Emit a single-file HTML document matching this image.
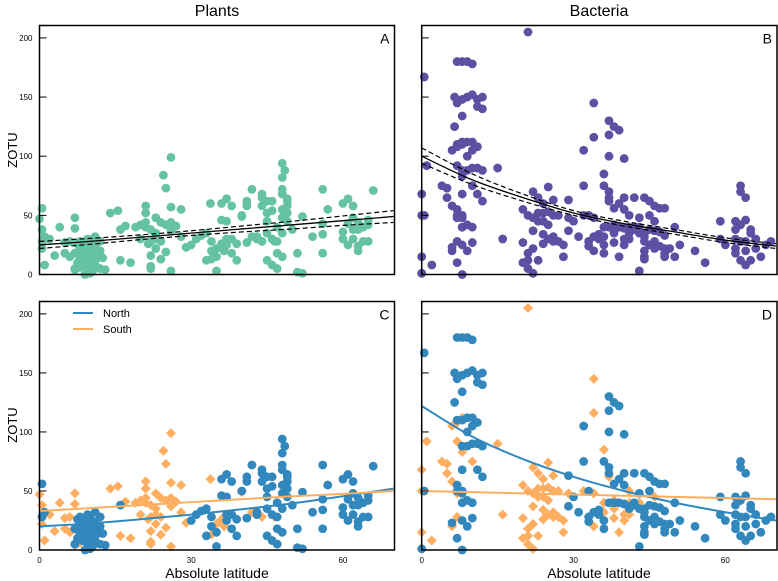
<!DOCTYPE html>
<html><head><meta charset="utf-8">
<style>
html,body{margin:0;padding:0;background:#fff;}
svg{display:block;font-family:"Liberation Sans",Arial,sans-serif;}
</style></head>
<body>
<svg id="chart" width="778" height="581" viewBox="0 0 778 581" xmlns="http://www.w3.org/2000/svg"></svg>
<script>
// Plants: North (circles)
const plantsNorthLat = [0.5,1,0.5,7,7.5,8,8,8.5,9,9,9,9.5,9.5,10,10,10,10,10.5,10.5,11,11,11,11.5,12,12,8,7,12,10,9,11,13,16,30,31,32,33,33,34,34,35,35,36,36,37,37,37,37,38,38,38,39,39,40,41,41,41,42,43,43,44,44,44,45,45,45,45,45,46,46,46,46,47,47,47,47,48,48,48,48,48,48,49,49,49,49,48,48.5,48,49,50,51,51,52,52,54,56,56,56,56,57,60,60,60,61,61,61,62,62,62,62,63,63,63,63,64,64,65,65,65,66,8,9,10,11,7.5,9.5,10.5,12.5];
const plantsNorthVal = [56,32,28,5,10,15,22,8,12,18,25,5,30,10,15,20,27,3,12,18,24,8,14,20,28,28,18,5,1,0,32,4,38,25,30,33,35,12,28,20,3,15,46,60,64,45,30,25,18,58,30,12,26,50,62,58,27,72,32,30,58,65,68,62,52,45,35,12,62,30,54,8,40,28,18,5,72,68,55,48,35,15,62,58,52,45,94,88,82,64,38,18,2,1,49,32,72,43,34,18,55,60,30,36,64,43,25,58,48,38,30,44,38,24,20,40,28,46,42,28,71,20,12,16,22,26,6,20,14];
// Plants: South (diamonds)
const plantsSouthLat = [0,0.5,0.5,1,1,2,3,4,5,5,6,6,7,7,7,7,8,8,14,15.5,17,18,20,21,21,21,21.5,22,22,22,22,23,23,23,24,24,24,25,25,25,26,26,26,26,27,28,28,29,21,19,16,33.8,40,46.5,34,36,35,37,42,44,20,22,23,26,24.5,36.5];
const plantsSouthVal = [47,38,22,30,8,30,16,40,27,18,28,15,4,48,39,18,12,6,52,54,41,10,42,40,52,44,26,16,5,7,38,30,22,48,44,13,28,19,42,73,44,37,57,3,41,32,55,23,58,40,12,60,49,28,13,26,22,30,32,28,30,28,35,99,84,20];
// Bacteria: North (circles)
const bactNorthLat = [0.5,0.5,0,6.5,7,8,9,10,7,8,9,10,11,12,11,12,6.5,8,7,8,9,10,10,11,9,8,9,10,11,12,8,11,12,7,8,9,8,10,6,8,9,10,7,8,37,32,38,39,37,40,32,36,37,37,39,38,40,29,33,40,42,44,45,46,47,48,43,45,37,38,39,40,41,42,43,44,45,46,47,48,29,31,33,34,35,33,36,41,44,44,45,46,47,48,49,50,44,46,48,50,51,44,48,54,56,59,59,60,63,63,64,62,63,64,65,62,65,62,63,64,66,62,64,66,63,64,65,67,62,68,69,37,35,42,43,44,36,30,7,8];
const bactNorthVal = [167,50,1,150,180,180,180,178,145,148,150,152,148,150,142,140,125,134,110,110,112,112,105,108,100,88,88,90,90,88,68,68,62,55,50,42,40,40,23,25,20,27,10,0,130,105,125,122,100,98,75,75,70,65,60,56,65,63,50,55,65,65,62,58,56,56,48,50,40,40,40,39,37,38,35,35,38,37,36,33,37,32,28,32,34,24,25,35,32,28,25,28,24,22,22,40,20,22,18,15,25,13,15,20,10,45,30,25,75,70,65,45,42,46,38,38,35,30,28,28,30,22,20,22,12,8,12,15,18,25,28,118,30,40,3,15,18,45,50,48];
// Bacteria: South (diamonds)
const bactSouthLat = [0,0,0,0,1,4,5,6,7,7,8,8,5,6,7,6,7,2,8,10,15,16,20,21,22,23,24,25,26,23,24,25,22,23,24,25,26,27,29,20,22,24,25,26,27,28,21,22,24,26,28,20,21,21,23,22,21,34,34,36,37,38,36,38,40,41,41,43,46,33,36,38,40,41,34,39,32,34];
const bactSouthVal = [68,50,15,1,92,75,73,105,108,92,83,112,65,58,48,20,28,8,40,75,90,30,55,50,70,65,60,74,63,52,52,53,48,45,45,42,50,50,48,27,37,34,30,32,28,25,18,22,26,28,15,10,5,12,12,1,205,145,116,85,62,42,40,35,30,50,40,40,45,28,32,27,25,30,20,15,50,48];
// Fitted curves: [latitude, value]
const fitLat = [0,10,20,30,40,50,60,70];
const fitPlants = [25,28,31.5,35,38.5,42,45.5,49];
const fitPlantsLo = [22,25.5,29.5,33,36,38.5,41.5,44];
const fitPlantsHi = [28,30.5,33.5,37,41,45,49.5,54];
const fitBact = [100,80,65,52,43,36,29,24];
const fitBactLo = [94,76,62,50,41,34,27,22];
const fitBactHi = [107,85,68,54,45,38,31,26];
const fitPlantsN = [20,22.5,26,30,34.5,39.5,45.5,52];
const fitPlantsS = [33,35.5,38,40.5,43,45.5,47.5,50];
const fitBactN = [122,96,77,62,50,40,32,25];
const fitBactS = [50,49,48,47,46,45,44,43];
const yTicks = [0,50,100,150,200];
const xTicks = [0,30,60];

const svg = document.getElementById('chart');
const NS = 'http://www.w3.org/2000/svg';
function mk(tag, attrs, parent){const e=document.createElementNS(NS,tag);for(const k in attrs)e.setAttribute(k,attrs[k]);(parent||svg).appendChild(e);return e;}

const panels = [
 {id:'a',letter:'A',x0:39.5,x1:394.5,y0:274.5,y1:25.5},
 {id:'b',letter:'B',x0:421.7,x1:777,y0:274.5,y1:25.5},
 {id:'c',letter:'C',x0:39.5,x1:394.5,y0:550,y1:301.5},
 {id:'d',letter:'D',x0:421.7,x1:777,y0:550,y1:301.5}
];
const XMAX=70.2, YMAX=210.5;
function sx(p,v){return p.x0+(v/XMAX)*(p.x1-p.x0);}
function sy(p,v){return p.y0-(v/YMAX)*(p.y0-p.y1);}

function drawAxes(p, showX){
  const g=mk('g',{});
  
  
  yTicks.forEach(t=>{
    const y=sy(p,t);
    const l=mk('line',{x1:p.x0,x2:p.x0+7,y1:y,y2:y,stroke:'#000','stroke-width':1},g);
    
    
    if(p.id==='a'||p.id==='c'){
      const tx=mk('text',{x:p.x0-7,y:y+3,'font-size':8,'text-anchor':'end',fill:'#000'},g);
      tx.textContent=t;
      
      
    }
  });
  if(showX){
    xTicks.forEach(t=>{
      const x=sx(p,t);
      const tx=mk('text',{x:x,y:p.y0+13,'font-size':8,'text-anchor':'middle',fill:'#000'},g);
      tx.textContent=t;
      
      
    });
  }
}
function drawBox(p){
  const r=mk('rect',{x:p.x0,y:p.y1,width:p.x1-p.x0,height:p.y0-p.y1,fill:'none',stroke:'#000','stroke-width':1.5});
  
  
  const t=mk('text',{x:p.x1-5,y:p.y1+18,'font-size':14,'text-anchor':'end',fill:'#000'});
  t.textContent=p.letter;
  
  
}
function circles(p,lat,val,color,name){
  const g=mk('g',{});
  
  
  for(let i=0;i<lat.length;i++){
    const c=mk('circle',{cx:sx(p,lat[i]),cy:sy(p,val[i]),r:4.4,fill:color},g);
    
    
  }
}
function diamonds(p,lat,val,color,name){
  const g=mk('g',{});
  
  
  for(let i=0;i<lat.length;i++){
    const x=sx(p,lat[i]),y=sy(p,val[i]),d=5;
    const c=mk('polygon',{points:`${x},${y-d} ${x+d},${y} ${x},${y+d} ${x-d},${y}`,fill:color},g);
    
    
  }
}
function curve(p,xs,ys,color,w,dash,name){
  let d='';
  // Catmull-Rom smoothing
  const pts=xs.map((x,i)=>[sx(p,x),sy(p,ys[i])]);
  d='M'+pts[0][0]+','+pts[0][1];
  for(let i=0;i<pts.length-1;i++){
    const p0=pts[i-1]||pts[i],p1=pts[i],p2=pts[i+1],p3=pts[i+2]||p2;
    const c1=[p1[0]+(p2[0]-p0[0])/6,p1[1]+(p2[1]-p0[1])/6];
    const c2=[p2[0]-(p3[0]-p1[0])/6,p2[1]-(p3[1]-p1[1])/6];
    d+=` C${c1[0]},${c1[1]} ${c2[0]},${c2[1]} ${p2[0]},${p2[1]}`;
  }
  const a={d:d,fill:'none',stroke:color,'stroke-width':w};
  if(dash)a['stroke-dasharray']=dash;
  const e=mk('path',a);
  
  
}

const GREEN='#66c2a5', PURPLE='#5e4fa2', BLUE='#3288bd', ORANGE='#fdae61';
const [A,B,C,D]=panels;
// Panel A
circles(A,plantsNorthLat.concat(plantsSouthLat),plantsNorthVal.concat(plantsSouthVal),GREEN,'plants-points');
curve(A,fitLat,fitPlantsLo,'#000',1.2,'5,3','plants-fit-lower-ci');
curve(A,fitLat,fitPlantsHi,'#000',1.2,'5,3','plants-fit-upper-ci');
curve(A,fitLat,fitPlants,'#000',1.3,null,'plants-fit');
// Panel B
circles(B,bactNorthLat.concat(bactSouthLat),bactNorthVal.concat(bactSouthVal),PURPLE,'bacteria-points');
curve(B,fitLat,fitBactLo,'#000',1.2,'5,3','bacteria-fit-lower-ci');
curve(B,fitLat,fitBactHi,'#000',1.2,'5,3','bacteria-fit-upper-ci');
curve(B,fitLat,fitBact,'#000',1.3,null,'bacteria-fit');
// Panel C
diamonds(C,plantsSouthLat,plantsSouthVal,ORANGE,'plants-south-points');
circles(C,plantsNorthLat,plantsNorthVal,BLUE,'plants-north-points');
curve(C,fitLat,fitPlantsN,BLUE,2,null,'plants-north-fit');
curve(C,fitLat,fitPlantsS,ORANGE,2,null,'plants-south-fit');
// Panel D
diamonds(D,bactSouthLat,bactSouthVal,ORANGE,'bacteria-south-points');
circles(D,bactNorthLat,bactNorthVal,BLUE,'bacteria-north-points');
curve(D,fitLat,fitBactN,BLUE,2,null,'bacteria-north-fit');
curve(D,fitLat,fitBactS,ORANGE,2,null,'bacteria-south-fit');

panels.forEach(p=>{drawAxes(p,p.id==='c'||p.id==='d');drawBox(p);});

// titles
function txt(x,y,s,str,name,extra){const t=mk('text',Object.assign({x:x,y:y,'font-size':s,'text-anchor':'middle',fill:'#000'},extra||{}));t.textContent=str;return t;}
txt(217,16,16,'Plants','plants-title');
txt(599,16,16,'Bacteria','bacteria-title');
txt(17,150,13,'ZOTU','y-axis-title-top',{transform:'rotate(-90 17 150)'});
txt(17,425,13,'ZOTU','y-axis-title-bottom',{transform:'rotate(-90 17 425)'});
txt(217,578,14,'Absolute latitude','x-axis-title-left');
txt(599,578,14,'Absolute latitude','x-axis-title-right');

// legend
const lg=mk('g',{});


const l1=mk('line',{x1:73,x2:93,y1:313,y2:313,stroke:BLUE,'stroke-width':2},lg);


const l2=mk('line',{x1:73,x2:93,y1:329,y2:329,stroke:ORANGE,'stroke-width':2},lg);


const t1=txt(103,317,11,'North','legend-north-label',{'text-anchor':'start'});
const t2=txt(103,333,11,'South','legend-south-label',{'text-anchor':'start'});
</script>
</body></html>
